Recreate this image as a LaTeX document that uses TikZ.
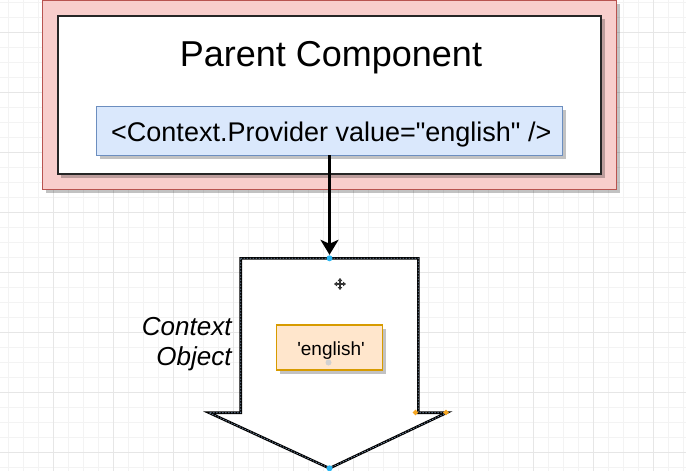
\documentclass[tikz,border=0pt]{standalone}
\usepackage{fontspec}
\setmainfont{Liberation Sans}
\usetikzlibrary{arrows.meta,shapes.geometric}

\definecolor{gridminor}{HTML}{F3F3F3}
\definecolor{gridmajor}{HTML}{E6E6E6}
\definecolor{pinkfill}{HTML}{F8CECC}
\definecolor{pinkline}{HTML}{B85450}
\definecolor{bluefill}{HTML}{DAE8FC}
\definecolor{blueline}{HTML}{6C8EBF}
\definecolor{orangefill}{HTML}{FFE6CC}
\definecolor{orangeline}{HTML}{D79B00}
\definecolor{handleblue}{HTML}{29B6F2}
\definecolor{handleorange}{HTML}{F5A623}
\definecolor{selectdash}{HTML}{7A93AD}

\begin{document}
\begin{tikzpicture}[x=1pt,y=-1pt,
  shadowed/.style={preaction={fill=black,opacity=0.24,
      transform canvas={shift={(3.5pt,-3.5pt)}}}},
  box/.style={rectangle,inner sep=0pt,outer sep=0pt},
  parentbox/.style={box,shadowed,fill=pinkfill,draw=pinkline,line width=1.2pt},
  compbox/.style={box,shadowed,fill=white,draw=black!85,line width=2pt},
  providerbox/.style={box,shadowed,fill=bluefill,draw=blueline,line width=1pt},
  valuebox/.style={box,shadowed,fill=orangefill,draw=orangeline,line width=1.2pt},
  flow/.style={line width=3pt,-{Stealth[length=15pt,width=18pt,inset=4pt]}},
  handle/.style={circle,fill=handleblue,inner sep=0pt,minimum size=6pt},
  knob/.style={diamond,fill=handleorange,inner sep=0pt,minimum size=6pt},
  cursorarm/.style={-{Triangle[length=3pt,width=4.5pt]}},
]
\useasboundingbox (0,0) rectangle (686,471);
\fill[white] (0,0) rectangle (686,471);

% background grid
\foreach \gx in {8,23,...,686} \draw[gridminor,line width=1pt] (\gx,0) -- (\gx,471);
\foreach \gy in {2,17,...,471} \draw[gridminor,line width=1pt] (0,\gy) -- (686,\gy);
\foreach \gx in {53,113,...,686} \draw[gridmajor,line width=1pt] (\gx,0) -- (\gx,471);
\foreach \gy in {32,92,...,471} \draw[gridmajor,line width=1pt] (0,\gy) -- (686,\gy);

% parent component with the provider inside
\node[parentbox,minimum width=574pt,minimum height=188.8pt] (parent) at (329.7,94.9) {};
\node[compbox,minimum width=543.6pt,minimum height=158.3pt] (comp) at (329.5,94.85) {};
\node[anchor=base,inner sep=0pt,font=\fontsize{36}{43}\selectfont] (title) at (331,66.7) {Parent Component};
\node[providerbox,minimum width=465.6pt,minimum height=49pt] (provider) at (329.5,130.5) {};
\node[anchor=base,inner sep=0pt,font=\fontsize{27}{32}\selectfont] (providertext) at (331.3,141.7)
  {<Context.Provider value=\textquotedbl english\textquotedbl{} />};

% context object: a wide downward arrow
\coordinate (objtop) at (329.5,258.3);
\coordinate (objtip) at (329.5,468.3);
\path[fill=white] (240.7,258.3) -- (418.3,258.3) -- (418.3,412.7) -- (446.7,412.7)
  -- (objtip) -- (209,412.7) -- (240.7,412.7) -- cycle;
\draw[black,line width=2.6pt,line join=miter] (240.7,258.3) -- (418.3,258.3) -- (418.3,412.7) -- (446.7,412.7)
  -- (objtip) -- (209,412.7) -- (240.7,412.7) -- cycle;
\draw[selectdash,line width=0.7pt,dash pattern=on 1.5pt off 1.5pt] (240.7,258.3) -- (418.3,258.3) -- (418.3,412.7) -- (446.7,412.7)
  -- (objtip) -- (209,412.7) -- (240.7,412.7) -- cycle;

\node[anchor=base east,inner sep=0pt,font=\fontsize{26}{30}\selectfont\itshape] (ctxlabel) at (231.7,335) {Context};
\node[anchor=base east,inner sep=0pt,font=\fontsize{26}{30}\selectfont\itshape] (objlabel) at (231.7,365) {Object};

\node[valuebox,minimum width=105.6pt,minimum height=45pt] (value) at (329.5,347.5) {};
\node[anchor=base,inner sep=0pt,font=\fontsize{19}{23}\selectfont] (valuetext) at (331,355) {\textquotesingle english\textquotesingle};
\fill[black!18] (328.5,362.5) circle (3pt);

% provider feeds the context object
\draw[flow,shorten >=3.5pt] (provider.south) -- (objtop);

% selection handles
\node[handle] (htop) at (objtop) {};
\node[handle] (htip) at (objtip) {};
\node[knob] (kin) at (415.5,412.5) {};
\node[knob] (kout) at (446,412.5) {};

% move cursor
\begin{scope}[shift={(340,284)},line width=1.4pt,black!80]
  \draw[cursorarm] (0,0) -- (0,-6);
  \draw[cursorarm] (0,0) -- (0,6);
  \draw[cursorarm] (0,0) -- (-6,0);
  \draw[cursorarm] (0,0) -- (6,0);
\end{scope}
\end{tikzpicture}
\end{document}
